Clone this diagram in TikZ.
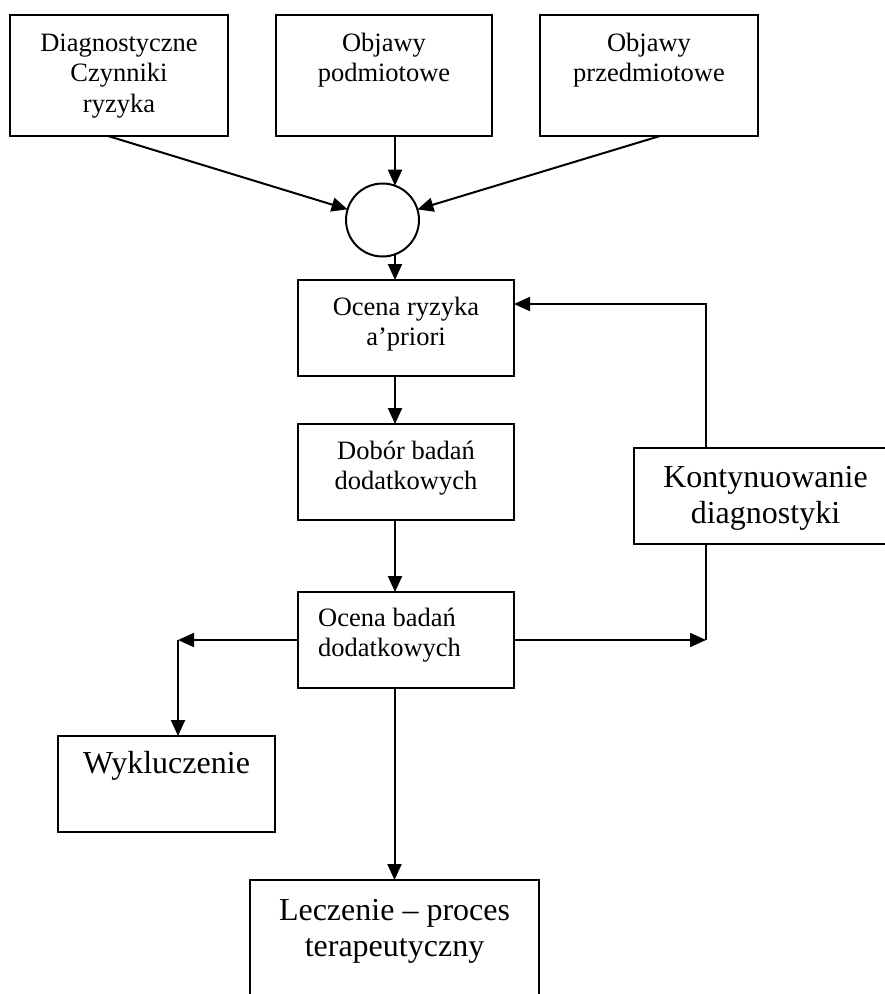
\documentclass[tikz,border=0pt]{standalone}
\usepackage{fontspec}
\setmainfont{Liberation Serif}
\usetikzlibrary{arrows.meta}
\begin{document}
\begin{tikzpicture}[x=1pt,y=-1pt,
  box/.style={draw, line width=2pt, rectangle, outer sep=0pt, inner sep=0pt, anchor=north west},
  circ/.style={draw, line width=2pt, circle, minimum size=73pt, inner sep=0pt, outer sep=0pt},
  arr/.style={line width=2pt, -{Triangle[length=16pt,width=14pt]}},
  conn/.style={line width=2pt},
  small/.style={inner sep=0pt, anchor=base, font=\fontsize{26.5}{30.5}\selectfont},
  large/.style={inner sep=0pt, anchor=base, font=\fontsize{32}{36.7}\selectfont}]
\clip (0,0) rectangle (885,994);
\fill[white] (0,0) rectangle (885,994);

% input boxes
\node[box, minimum width=218pt, minimum height=121pt] (risk) at (10,15) {};
\node[box, minimum width=216pt, minimum height=121pt] (subj) at (276,15) {};
\node[box, minimum width=218pt, minimum height=121pt] (obj) at (540,15) {};
\node[circ] (join) at (382.5,220) {};

% main column
\node[box, minimum width=216pt, minimum height=96pt] (prior) at (298,280) {};
\node[box, minimum width=216pt, minimum height=96pt] (select) at (298,424) {};
\node[box, minimum width=216pt, minimum height=96pt] (assess) at (298,592) {};
\node[box, minimum width=263pt, minimum height=96pt] (cont) at (634,448) {};
\node[box, minimum width=217pt, minimum height=96pt] (excl) at (58,736) {};
\node[box, minimum width=289pt, minimum height=140pt] (treat) at (250,880) {};

% labels
\node[small] (risk-t) at ([yshift=-36pt]risk.north) {\begin{tabular}[t]{@{}c@{}}Diagnostyczne\\Czynniki\\ryzyka\end{tabular}};
\node[small] (subj-t) at ([yshift=-36pt]subj.north) {\begin{tabular}[t]{@{}c@{}}Objawy\\podmiotowe\end{tabular}};
\node[small] (obj-t) at ([yshift=-36pt]obj.north) {\begin{tabular}[t]{@{}c@{}}Objawy\\przedmiotowe\end{tabular}};
\node[small] (prior-t) at ([yshift=-35pt]prior.north) {\begin{tabular}[t]{@{}c@{}}Ocena ryzyka\\a’priori\end{tabular}};
\node[small] (select-t) at ([yshift=-35pt]select.north) {\begin{tabular}[t]{@{}c@{}}Dobór badań\\dodatkowych\end{tabular}};
\node[small, anchor=base west] (assess-t) at ([xshift=20pt,yshift=-34pt]assess.north west) {\begin{tabular}[t]{@{}l@{}}Ocena badań\\dodatkowych\end{tabular}};
\node[large] (cont-t) at ([yshift=-39pt]cont.north) {\begin{tabular}[t]{@{}c@{}}Kontynuowanie\\diagnostyki\end{tabular}};
\node[large] (excl-t) at ([yshift=-37pt]excl.north) {Wykluczenie};
\node[large] (treat-t) at ([yshift=-40pt]treat.north) {\begin{tabular}[t]{@{}c@{}}Leczenie \textendash{} proces\\terapeutyczny\end{tabular}};

% connectors
\draw[arr] ([xshift=-11pt]risk.south) -- (join);
\draw[arr] ([xshift=11pt]obj.south) -- (join);
\draw[arr] (subj.south -| join.70) -- (join.70);
\draw[arr] (join.-70) -- (join.-70 |- prior.north);
\draw[arr] ([xshift=-11pt]prior.south) -- ([xshift=-11pt]select.north);
\draw[arr] ([xshift=-11pt]select.south) -- ([xshift=-11pt]assess.north);
\draw[arr] (assess.south -| treat.north) -- (treat.north);

\coordinate (cont-top) at ([xshift=-59.5pt]cont.north);
\coordinate (cont-bot) at ([xshift=-59.5pt]cont.south);
\draw[arr] (cont-top) |- ([yshift=24pt]prior.east);
\coordinate (right-turn) at (assess.east -| cont-bot);
\draw[arr] (assess.east) -- (right-turn);
\draw[conn] (right-turn) -- (cont-bot);

\coordinate (excl-top) at ([xshift=11.5pt]excl.north);
\coordinate (left-turn) at (assess.west -| excl-top);
\draw[arr] (assess.west) -- (left-turn);
\draw[arr] (left-turn) -- (excl-top);
\end{tikzpicture}
\end{document}
